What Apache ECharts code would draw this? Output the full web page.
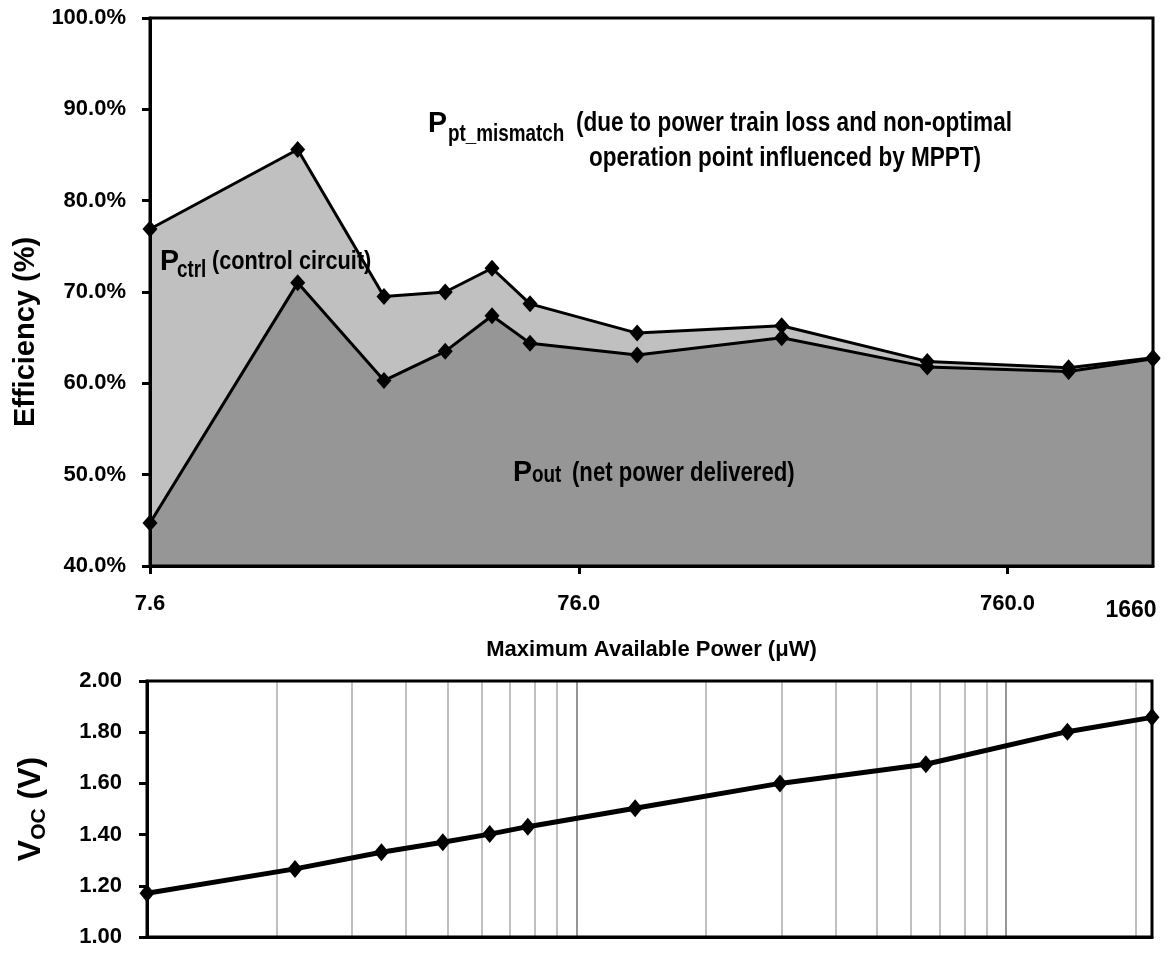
<!DOCTYPE html>
<html>
<head>
<meta charset="utf-8">
<script src="https://cdn.jsdelivr.net/npm/echarts@6/dist/echarts.min.js"></script>
<style>
  html, body { margin: 0; padding: 0; background: #fff; }
  #main { width: 1169px; height: 953px; }
</style>
</head>
<body>
<div id="main"></div>
<script>
// 最大可用功率 (μW)，对数坐标
const power = [7.6, 16.8, 26.7, 37.1, 47.7, 58.5, 104, 226, 494, 1055, 1660];
// P_out + P_ctrl 的效率 (%)
const effTotal = [76.9, 85.6, 69.5, 70.0, 72.6, 68.7, 65.5, 66.3, 62.4, 61.7, 62.8];
// P_out 的效率 (%)
const effOut = [44.7, 71.0, 60.3, 63.5, 67.4, 64.4, 63.1, 65.0, 61.8, 61.3, 62.7];
// 开路电压 Voc (V)
const voc = [1.171, 1.266, 1.331, 1.370, 1.402, 1.431, 1.503, 1.600, 1.675, 1.802, 1.858];

// 横轴刻度
const xTickValues = [7.6, 76, 760, 1660];
const xTickLabels = ['7.6', '76.0', '760.0', '1660'];
// 下图竖直网格线 (7.6 的整数倍)
const gridValues = [15.2, 22.8, 30.4, 38, 45.6, 53.2, 60.8, 68.4, 76,
  152, 228, 304, 380, 456, 532, 608, 684, 760, 1520];
const decadeLines = [76, 760];

const FONT = '"Liberation Sans", Arial, sans-serif';
const BLACK = '#000';
const axisLineStyle = { color: BLACK, width: 3 };

const pair = (xs, ys) => xs.map((x, i) => [x, ys[i]]);

const chart = echarts.init(document.getElementById('main'));

// 顶部图的标注文字（横向压缩模拟窄体字）
const note = (x, y, text, size, sx = 0.82) => ({
  type: 'text', x, y, z: 20, scaleX: sx,
  style: { text, fill: BLACK, font: `bold ${size}px ${FONT}`, textVerticalAlign: 'middle' }
});

const option = {
  animation: false,
  textStyle: { fontFamily: FONT, fontWeight: 'bold', color: BLACK },
  grid: [
    { left: 150, right: 16, top: 18, height: 548, show: true, z: 3, outerBoundsMode: 'none',
      borderColor: BLACK, borderWidth: 3, backgroundColor: 'transparent' },
    { left: 147, right: 17, top: 681, height: 256, show: true, z: 3, outerBoundsMode: 'none',
      borderColor: BLACK, borderWidth: 3, backgroundColor: 'transparent' }
  ],
  xAxis: [
    {
      type: 'log', gridIndex: 0, logBase: 10, min: 7.6, max: 1660, z: 3,
      axisLine: { lineStyle: axisLineStyle },
      axisTick: { show: false }, axisLabel: { show: false }, splitLine: { show: false }
    },
    {
      // 只用于显示刻度与标签（对数值的线性轴）
      type: 'value', gridIndex: 0, position: 'bottom', z: 3,
      min: Math.log10(xTickValues[0]), max: Math.log10(xTickValues[3]),
      axisLine: { show: false }, splitLine: { show: false },
      axisTick: {
        show: true, length: 8, lineStyle: axisLineStyle,
        customValues: xTickValues.slice(0, 3).map(Math.log10)
      },
      axisLabel: {
        customValues: xTickValues.map(Math.log10),
        margin: 27, fontSize: 22, fontWeight: 'bold', color: BLACK, fontFamily: FONT,
        formatter: (v) => {
          const i = xTickValues.findIndex(t => Math.abs(Math.log10(t) - v) < 1e-6);
          return i === xTickValues.length - 1 ? `{end|${xTickLabels[i]}}` : xTickLabels[i];
        },
        rich: { end: { fontSize: 23, fontWeight: 'bold', fontFamily: FONT, padding: [6, 44, 0, 0] } }
      },
      name: 'Maximum Available Power (μW)', nameLocation: 'middle', nameGap: 73,
      nameTextStyle: { fontSize: 22, fontWeight: 'bold', color: BLACK, fontFamily: FONT }
    },
    {
      type: 'log', gridIndex: 1, logBase: 10, min: 7.6, max: 1660, z: 3,
      axisLine: { lineStyle: axisLineStyle },
      axisTick: { show: false }, axisLabel: { show: false }, splitLine: { show: false }
    }
  ],
  yAxis: [
    {
      type: 'value', gridIndex: 0, min: 40, max: 100, interval: 10, z: 3,
      axisLine: { show: true, lineStyle: axisLineStyle },
      axisTick: { show: true, length: 8, lineStyle: axisLineStyle },
      splitLine: { show: false },
      axisLabel: { formatter: v => v.toFixed(1) + '%', fontSize: 22, margin: 24,
        fontWeight: 'bold', color: BLACK, fontFamily: FONT },
      name: 'Efficiency (%)', nameLocation: 'middle', nameRotate: 90, nameGap: 108,
      nameTextStyle: { fontSize: 29, fontWeight: 'bold', color: BLACK, fontFamily: FONT,
        padding: [0, 80, 0, 0] }
    },
    {
      type: 'value', gridIndex: 1, min: 1, max: 2, interval: 0.2, z: 3,
      axisLine: { show: true, lineStyle: axisLineStyle },
      axisTick: { show: true, length: 8, lineStyle: axisLineStyle },
      splitLine: { show: false },
      axisLabel: { formatter: v => v.toFixed(2), fontSize: 22, margin: 25,
        fontWeight: 'bold', color: BLACK, fontFamily: FONT },
      name: '{v|V}{s|OC}{v| (V)}', nameLocation: 'middle', nameRotate: 90, nameGap: 97,
      nameTextStyle: {
        rich: {
          v: { fontSize: 32, lineHeight: 38, fontWeight: 'bold', fontFamily: FONT, color: BLACK },
          s: { fontSize: 21, lineHeight: 21, verticalAlign: 'bottom', fontWeight: 'bold',
            fontFamily: FONT, color: BLACK }
        }
      }
    }
  ],
  series: [
    {
      name: 'total area', type: 'line', xAxisIndex: 0, yAxisIndex: 0, z: 1,
      data: pair(power, effTotal), symbol: 'none', silent: true,
      lineStyle: { width: 0 }, areaStyle: { color: '#c0c0c0', opacity: 1, origin: 'start' }
    },
    {
      name: 'out area', type: 'line', xAxisIndex: 0, yAxisIndex: 0, z: 2,
      data: pair(power, effOut), symbol: 'none', silent: true,
      lineStyle: { width: 0 }, areaStyle: { color: '#969696', opacity: 1, origin: 'start' }
    },
    {
      name: 'P_out + P_ctrl', type: 'line', xAxisIndex: 0, yAxisIndex: 0, z: 5, clip: false,
      data: pair(power, effTotal), symbol: 'diamond', symbolSize: [15, 17],
      lineStyle: { color: BLACK, width: 3 }, itemStyle: { color: BLACK }
    },
    {
      name: 'P_out', type: 'line', xAxisIndex: 0, yAxisIndex: 0, z: 5, clip: false,
      data: pair(power, effOut), symbol: 'diamond', symbolSize: [15, 17],
      lineStyle: { color: BLACK, width: 3 }, itemStyle: { color: BLACK }
    },
    {
      name: 'Voc', type: 'line', xAxisIndex: 2, yAxisIndex: 1, z: 5, clip: false,
      data: pair(power, voc), symbol: 'diamond', symbolSize: [15, 18],
      lineStyle: { color: BLACK, width: 5 }, itemStyle: { color: BLACK },
      markLine: {
        z: 1, silent: true, symbol: 'none', label: { show: false },
        data: gridValues.map(v => ({
          xAxis: v,
          lineStyle: { type: 'solid', width: 2,
            color: decadeLines.includes(v) ? '#969696' : '#c0c0c0' }
        }))
      }
    }
  ],
  graphic: [
    note(428, 124, 'P', 30, 0.95),
    note(448, 135, 'pt_mismatch', 23),
    note(576, 123, '(due to power train loss and non-optimal', 27.5),
    note(589, 158, 'operation point influenced by MPPT)', 27.5),
    note(160, 262, 'P', 30, 0.95),
    note(177, 271, 'ctrl', 23),
    note(212, 262, '(control circuit)', 26.5),
    note(513, 473, 'P', 30, 0.95),
    note(532, 476, 'out', 23),
    note(572, 474, '(net power delivered)', 27)
  ]
};

chart.setOption(option);
window.addEventListener('resize', () => chart.resize());
</script>
</body>
</html>
